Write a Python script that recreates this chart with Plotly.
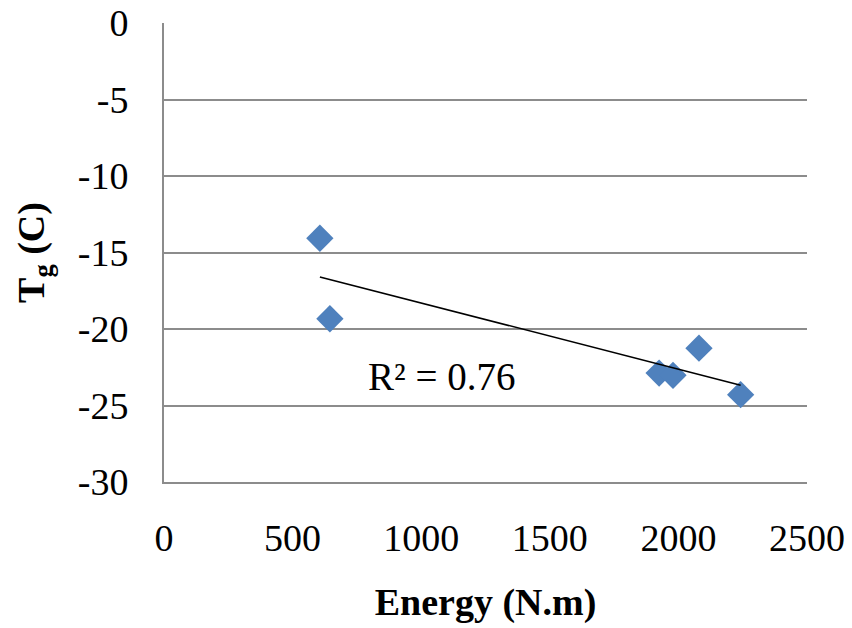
import numpy as np
import plotly.graph_objects as go

# Impact energy (N.m) and glass transition temperature Tg (C)
energy = [606, 645, 1925, 1979, 2080, 2242]
tg = [-14.07, -19.33, -22.88, -23.03, -21.25, -24.29]

x_ticks = [0, 500, 1000, 1500, 2000, 2500]
y_ticks = [0, -5, -10, -15, -20, -25, -30]

# Linear least-squares trend line and its coefficient of determination
x = np.array(energy, dtype=float)
y = np.array(tg, dtype=float)
slope, intercept = np.polyfit(x, y, 1)
y_hat = slope * x + intercept
r2 = 1 - np.sum((y - y_hat) ** 2) / np.sum((y - y.mean()) ** 2)
x_line = np.array([x.min(), x.max()])
y_line = slope * x_line + intercept

font_family = "Liberation Serif, Times New Roman, serif"
grid_color = "#8c8c8c"

fig = go.Figure()
fig.add_trace(go.Scatter(
    x=energy, y=tg, mode="markers",
    marker=dict(symbol="diamond", size=21, color="#4f81bd", line=dict(width=0)),
    showlegend=False,
))
fig.add_trace(go.Scatter(
    x=x_line, y=y_line, mode="lines",
    line=dict(color="#000000", width=1.5),
    showlegend=False,
))

fig.add_annotation(
    x=1080, y=-23.1, xref="x", yref="y",
    text=f"R² = {r2:.2f}", showarrow=False,
    font=dict(family=font_family, size=39, color="#000000"),
)

fig.update_layout(
    width=852, height=628,
    margin=dict(l=164, r=45, t=23, b=146),
    paper_bgcolor="white", plot_bgcolor="white",
    font=dict(family=font_family, size=38, color="#000000"),
    xaxis=dict(
        range=[0, 2500], tickvals=x_ticks, ticktext=[str(v) for v in x_ticks],
        showgrid=False, zeroline=False, automargin=False,
        showline=True, linecolor=grid_color, linewidth=2,
        ticks="", ticklabelstandoff=21,
        title=dict(text="<b>Energy (N.m)</b>", standoff=31,
                   font=dict(family=font_family, size=38)),
    ),
    yaxis=dict(
        range=[-30, 0], tickvals=y_ticks, ticktext=[str(v) for v in y_ticks],
        showgrid=True, gridcolor=grid_color, gridwidth=2, zeroline=False,
        automargin=False,
        showline=True, linecolor=grid_color, linewidth=2,
        ticks="", ticklabelstandoff=26,
        title=dict(text="<b>T<sub>g</sub> (C)</b>", standoff=21,
                   font=dict(family=font_family, size=38)),
    ),
)

fig.write_html("out.html")
